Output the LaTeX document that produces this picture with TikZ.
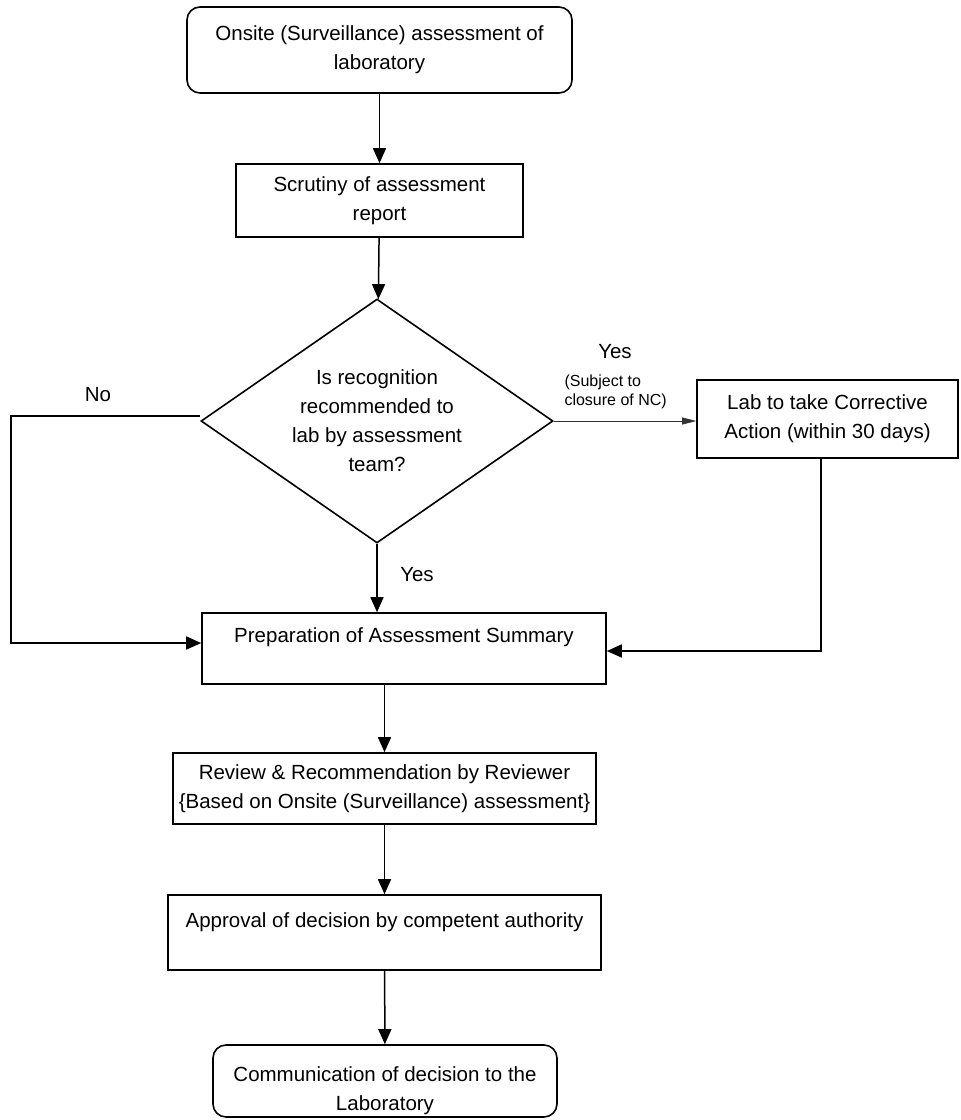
\documentclass[tikz,border=0pt]{standalone}
\usepackage{fontspec}
\setmainfont{Liberation Sans}
\usetikzlibrary{arrows.meta, shapes.geometric}

\begin{document}
\begin{tikzpicture}[x=1pt, y=-1pt,
  font=\fontsize{20.5}{29}\selectfont,
  box/.style={draw, line width=1.6pt, inner sep=0pt, align=center},
  rbox/.style={box, rounded corners=13pt},
  flow/.style={line width=1.5pt, -{Triangle[length=15pt, width=13pt]}},
  thinflow/.style={line width=0.7pt, draw=black!80, -{Triangle[length=14pt, width=7pt]}}]

  \useasboundingbox (0,0) rectangle (961,1120);

  \node[rbox, minimum width=385, minimum height=86] (onsite) at (379.5,50) {Onsite (Surveillance) assessment of\\laboratory};
  \node[box, minimum width=287, minimum height=73] (scrut) at (379.5,200.5) {Scrutiny of assessment\\report};
  \node[box, shape=diamond, aspect=1.44, minimum width=352, minimum height=244] (recog) at (377,421) {Is recognition\\recommended to\\lab by assessment\\team?};
  \node[box, minimum width=261, minimum height=78] (lab) at (827.5,419) {Lab to take Corrective\\Action (within 30 days)};

  \node[box, minimum width=404, minimum height=71] (prep) at (404,648.5) {};
  \node (preptext) at (404,637) {Preparation of Assessment Summary};
  \node[box, minimum width=423, minimum height=71] (rev) at (384.5,788.5) {Review \& Recommendation by Reviewer\\\{Based on Onsite (Surveillance) assessment\}};
  \node[box, minimum width=433, minimum height=75] (appr) at (384.5,932.5) {};
  \node (apprtext) at (384.5,922) {Approval of decision by competent authority};
  \node[rbox, minimum width=344, minimum height=72] (comm) at (385,1081) {};
  \node[align=center] (commtext) at (385,1091) {Communication of decision to the\\Laboratory};

  \node (no) at (98,395) {No};
  \node (yesright) at (615,352) {Yes};
  \node[anchor=west, align=left, font=\fontsize{16}{19}\selectfont] (subject) at (561,391.5) {(Subject to\\closure of NC)};
  \node (yesdown) at (417,575) {Yes};

  \coordinate (nostart) at (200,416);
  \coordinate (noturn) at (11,416);
  \coordinate (noend) at (11,643);
  \coordinate (labturn) at (821,651);

  \draw[flow] (onsite) -- (scrut);
  \draw[flow] (scrut) -- (recog);
  \draw[flow] (recog.south) -- (recog.south |- prep.north);
  \draw[flow] (nostart) -- (noturn) -- (noend) -- (noend -| prep.west);
  \draw[thinflow] (recog.east) -- (recog.east -| lab.west);
  \draw[flow] (lab.south -| labturn) -- (labturn) -- (labturn -| prep.east);
  \draw[flow] (rev.north |- prep.south) -- (rev);
  \draw[flow] (rev) -- (appr);
  \draw[flow] (appr) -- (comm);

\end{tikzpicture}
\end{document}
